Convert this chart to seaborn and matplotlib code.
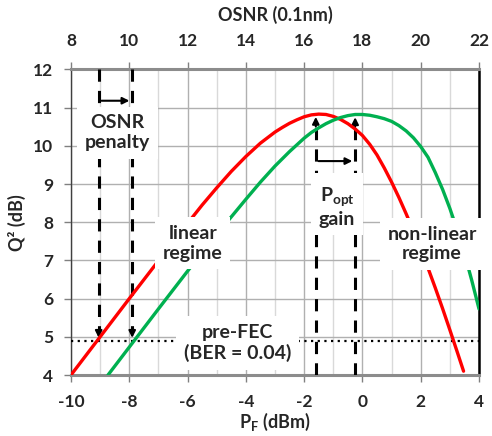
import matplotlib
matplotlib.use("Agg")
import matplotlib.pyplot as plt
import seaborn as sns
import pandas as pd
import numpy as np

# ---------------- data ----------------
p_red = [-10, -9, -8, -7, -6, -5.5, -5, -4.5, -4, -3.5, -3, -2.75, -2.5, -2.25, -2, -1.75, -1.5,
         -1.25, -1, -0.75, -0.5, -0.25, 0, 0.25, 0.5, 0.75, 1, 1.25, 1.5, 1.75, 2, 2.25, 2.5,
         2.75, 3, 3.25, 3.47]
q_red = [4.0, 5.0, 6.0, 6.99, 7.97, 8.45, 8.9, 9.33, 9.72, 10.07, 10.36, 10.48, 10.59, 10.68,
         10.76, 10.81, 10.83, 10.82, 10.77, 10.69, 10.58, 10.44, 10.27, 10.04, 9.76, 9.42, 9.05,
         8.65, 8.22, 7.77, 7.3, 6.8, 6.28, 5.74, 5.18, 4.61, 4.1]

p_green = [-8.73, -8, -7, -6, -5, -4.5, -4, -3.5, -3, -2.5, -2, -1.75, -1.5, -1.25, -1, -0.75,
           -0.5, -0.25, 0, 0.25, 0.5, 0.75, 1, 1.25, 1.5, 1.75, 2, 2.25, 2.5, 2.75, 3, 3.25,
           3.5, 3.75, 4]
q_green = [4.0, 4.73, 5.73, 6.72, 7.68, 8.14, 8.6, 9.05, 9.47, 9.85, 10.2, 10.35, 10.47, 10.58,
           10.67, 10.74, 10.79, 10.82, 10.82, 10.8, 10.76, 10.71, 10.64, 10.53, 10.39, 10.21,
           9.98, 9.7, 9.3, 8.86, 8.36, 7.8, 7.18, 6.48, 5.73]

pf_ticks = [-10, -8, -6, -4, -2, 0, 2, 4]
osnr_ticks = [8, 10, 12, 14, 16, 18, 20, 22]
q_ticks = [4, 5, 6, 7, 8, 9, 10, 11, 12]

prefec_q = 4.9                      # pre-FEC threshold (BER = 0.04)
penalty_p = [-9.05, -7.9]           # OSNR penalty crossings
popt_p = [-1.6, -0.25]              # optimum launch powers
popt_q = [10.83, 10.82]             # peak Q^2

# ---------------- style ----------------
sns.set_theme(style="white")
plt.rcParams["font.family"] = ["Lato", "DejaVu Sans"]
plt.rcParams["font.weight"] = "bold"
plt.rcParams["axes.unicode_minus"] = False
plt.rcParams["mathtext.fontset"] = "custom"
plt.rcParams["mathtext.rm"] = "Lato:bold"
plt.rcParams["mathtext.it"] = "Lato:bold"
plt.rcParams["mathtext.bf"] = "Lato:bold"

FS = 12.5     # tick labels
FT = 13       # axis titles
FA = 14       # annotations
fig = plt.figure(figsize=(4.92, 4.36), dpi=100)
ax = fig.add_axes([0.1443, 0.1399, 0.8293, 0.7009])

df = pd.concat([
    pd.DataFrame({"P": p_red, "Q": q_red, "s": "red"}),
    pd.DataFrame({"P": p_green, "Q": q_green, "s": "green"}),
])
sns.lineplot(data=df, x="P", y="Q", hue="s", palette={"red": "#ff0000", "green": "#00b050"},
             sort=False, legend=False, lw=2.4, ax=ax, zorder=4)

ax.set_xlim(pf_ticks[0], pf_ticks[-1])
ax.set_ylim(q_ticks[0], q_ticks[-1])
ax.set_xticks(pf_ticks)
ax.set_xticks(np.arange(pf_ticks[0] + 1, pf_ticks[-1], 2), minor=True)
ax.set_yticks(q_ticks)
ax.grid(True, which="major", color="#b0b0b0", lw=1.0, zorder=0)
ax.grid(True, which="minor", axis="x", color="#d9d9d9", lw=1.0, zorder=0)
ax.set_axisbelow(True)

ax.tick_params(axis="x", which="major", direction="out", length=5, width=1, color="#808080",
               labelsize=FS, pad=9, bottom=True)
ax.tick_params(axis="x", which="minor", length=0)
ax.tick_params(axis="y", direction="out", length=5, width=1, color="#808080",
               labelsize=FS, pad=8, left=True)
for lab in ax.get_xticklabels() + ax.get_yticklabels():
    lab.set_fontweight("bold")

ax.spines["bottom"].set_color("#8c8c8c"); ax.spines["bottom"].set_linewidth(2.2)
ax.spines["top"].set_color("#8c8c8c"); ax.spines["top"].set_linewidth(2.2)
ax.spines["left"].set_color("#404040"); ax.spines["left"].set_linewidth(1.0)
ax.spines["right"].set_color("black"); ax.spines["right"].set_linewidth(1.8)

ax.set_xlabel(r"P$_\mathrm{F}$ (dBm)", fontsize=FT, fontweight="bold", labelpad=0)
ax.set_ylabel("Q² (dB)", fontsize=FT, fontweight="bold", labelpad=5)

offset = osnr_ticks[0] - pf_ticks[0]
sec = ax.secondary_xaxis("top", functions=(lambda x: x + offset, lambda x: x - offset))
sec.set_xticks(osnr_ticks)
sec.tick_params(direction="out", length=5, width=1, color="#808080", labelsize=FS, pad=10)
for lab in sec.get_xticklabels():
    lab.set_fontweight("bold")
sec.spines["top"].set_visible(False)
sec.set_xlabel("OSNR (0.1nm)", fontsize=FT, fontweight="bold", labelpad=8)

# pre-FEC dotted threshold
ax.axhline(prefec_q, color="black", lw=1.6, ls=(0, (1, 2)), zorder=3)

# OSNR penalty dashed lines with down arrows
dash = (0, (4, 3))
arrow = dict(arrowstyle="-|>", color="black", lw=1.5, mutation_scale=10)
for p in penalty_p:
    ax.plot([p, p], [q_ticks[-1], prefec_q + 0.3], color="black", lw=2.2, ls=dash, zorder=3)
    ax.annotate("", xy=(p, prefec_q), xytext=(p, prefec_q + 0.35), arrowprops=arrow, zorder=3)
ax.annotate("", xy=(penalty_p[1], 11.18), xytext=(penalty_p[0], 11.18), arrowprops=arrow, zorder=3)

# P_opt dashed lines with up arrows
for p, q in zip(popt_p, popt_q):
    ax.plot([p, p], [q_ticks[0], q - 0.35], color="black", lw=2.2, ls=dash, zorder=3)
    ax.annotate("", xy=(p, q), xytext=(p, q - 0.4), arrowprops=arrow, zorder=3)
ax.annotate("", xy=(popt_p[1], 9.6), xytext=(popt_p[0], 9.6), arrowprops=arrow, zorder=3)

# labels with white boxes
box = dict(boxstyle="square,pad=0.4", facecolor="white", edgecolor="none")
txt = dict(ha="center", va="center", fontsize=FA, fontweight="bold", zorder=10, bbox=box,
           linespacing=1.2)
ax.text(-8.4, 10.34, "OSNR\npenalty", **txt)
ax.text(-5.82, 7.45, "linear\nregime", **txt)
ax.text(2.39, 7.43, "non-linear\nregime", **txt)
ax.text(-0.87, 8.42, "P$_\\mathrm{opt}$\ngain", **txt)
ax.text(-4.29, 4.84, "pre-FEC\n(BER = 0.04)", **txt)

fig.savefig("out.png", dpi=100)
